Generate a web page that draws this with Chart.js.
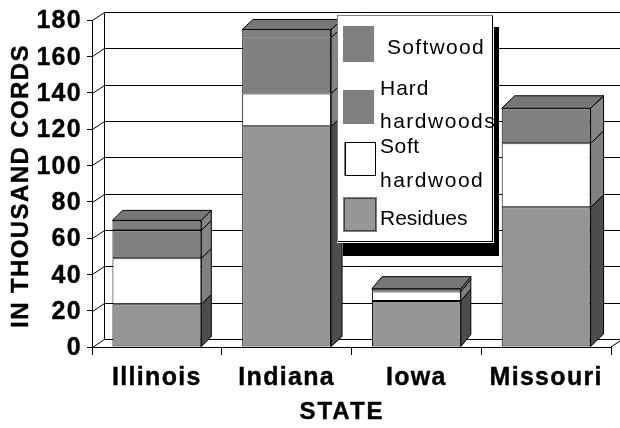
<!DOCTYPE html>
<html><head><meta charset="utf-8">
<script src="https://cdn.jsdelivr.net/npm/chart.js@4"></script>
<style>html,body{margin:0;padding:0;background:#fff}#w{width:620px;height:428px}</style>
</head><body><div id="w"><canvas id="c" width="620" height="428"></canvas></div>
<script>
const categories = ['Illinois', 'Indiana', 'Iowa', 'Missouri'];
const residues = [23.5, 121.5, 25.3, 76.9];
const softHardwood = [25.3, 18.1, 5.3, 35.2];
const hardHardwoods = [15.4, 30.8, 0, 19.3];
const softwood = [5.5, 4.4, 1.5, 0];
const yTicks = [0, 20, 40, 60, 80, 100, 120, 140, 160, 180];
const FONT = '"Liberation Sans", Arial, sans-serif';

const seriesStyle = [
  {label: 'Residues', data: residues, front: '#969696', side: '#4d4d4d'},
  {label: 'Soft hardwood', data: softHardwood, front: '#ffffff', side: '#808080'},
  {label: 'Hard hardwoods', data: hardHardwoods, front: '#808080', side: '#858585'},
  {label: 'Softwood', data: softwood, front: '#808080', side: '#858585'}
];
const TOP_FACE = '#777777';
const WALL_DX = 12, WALL_DY = 8;
const BAR_DX = [10, 11, 10, 13], BAR_DY = [10, 10, 12, 12.5];
const legendLines = [
  ['Softwood', 387, 54, 1.3],
  ['Hard', 380, 95, 1],
  ['hardwoods', 380, 128, 1.5],
  ['Soft', 380, 153, .6],
  ['hardwood', 380, 187, 1.5],
  ['Residues', 380, 225, 0]
];

function line(ctx, x1, y1, x2, y2) { ctx.beginPath(); ctx.moveTo(x1, y1); ctx.lineTo(x2, y2); ctx.stroke(); }
function poly(ctx, pts, fill) {
  ctx.beginPath(); pts.forEach((p, i) => i ? ctx.lineTo(p[0], p[1]) : ctx.moveTo(p[0], p[1])); ctx.closePath();
  ctx.fillStyle = fill; ctx.fill(); ctx.strokeStyle = '#000'; ctx.lineWidth = 1; ctx.stroke();
}
function heavyText(ctx, text, x, y) { ctx.fillText(text, x, y); ctx.lineWidth = .4; ctx.strokeStyle = '#000'; ctx.strokeText(text, x, y); }

const box3d = {
  id: 'box3d',
  beforeDraw(chart) { chart.ctx.letterSpacing = '1.3px'; },
  beforeDatasetsDraw(chart) {
    const ctx = chart.ctx, y = chart.scales.y, a = chart.chartArea;
    ctx.save(); ctx.strokeStyle = '#000'; ctx.lineWidth = 1;
    yTicks.forEach(v => {
      const py = Math.round(y.getPixelForValue(v)) + .5;
      line(ctx, a.left + .5, py, a.left + WALL_DX + .5, py - WALL_DY);
      line(ctx, a.left + WALL_DX + .5, py - WALL_DY, 620, py - WALL_DY);
    });
    line(ctx, a.left + WALL_DX + .5, Math.round(y.getPixelForValue(180)) - WALL_DY + .5, a.left + WALL_DX + .5, Math.round(y.getPixelForValue(0)) - WALL_DY + .5);
    line(ctx, a.right, a.bottom, 620, a.bottom - 6);
    categories.forEach((c, i) => {
      const dx = BAR_DX[i], dy = BAR_DY[i];
      let topEl = null;
      seriesStyle.forEach((s, d) => {
        const el = chart.getDatasetMeta(d).data[i];
        const r = el.x + el.width / 2;
        poly(ctx, [[r, el.base], [r + dx, el.base - dy], [r + dx, el.y - dy], [r, el.y]], s.side);
        topEl = el;
      });
      const l = topEl.x - topEl.width / 2, r = topEl.x + topEl.width / 2;
      poly(ctx, [[l, topEl.y], [l + dx, topEl.y - dy], [r + dx, topEl.y - dy], [r, topEl.y]], TOP_FACE);
    });
    ctx.restore();
  },
  afterDraw(chart) {
    const ctx = chart.ctx;
    ctx.save();
    // axis titles
    ctx.fillStyle = '#000'; ctx.textAlign = 'center'; ctx.textBaseline = 'middle';
    ctx.font = 'bold 24px ' + FONT; ctx.letterSpacing = '2px';
    heavyText(ctx, 'STATE', 342, 412);
    ctx.save(); ctx.translate(21, 186); ctx.rotate(-Math.PI / 2);
    ctx.letterSpacing = '1.4px';
    heavyText(ctx, 'IN THOUSAND CORDS', 0, 0); ctx.restore();
    // legend
    ctx.letterSpacing = '0px';
    ctx.fillStyle = '#000'; ctx.fillRect(343, 27, 156, 229);
    ctx.fillStyle = '#fff'; ctx.fillRect(337, 15, 157, 228);
    ctx.lineWidth = 1;
    ctx.strokeStyle = '#808080'; line(ctx, 337, 15.5, 493, 15.5); line(ctx, 337.5, 15, 337.5, 242);
    ctx.strokeStyle = '#000'; line(ctx, 338, 241.5, 493, 241.5); line(ctx, 492.5, 16, 492.5, 242);
    ctx.fillStyle = '#808080'; ctx.fillRect(343, 26, 31, 36); ctx.fillRect(343, 90, 31, 34);
    ctx.strokeStyle = '#000'; ctx.strokeRect(345.5, 142.5, 30, 33);
    ctx.strokeStyle = '#808080'; line(ctx, 344.5, 142, 344.5, 176);
    ctx.fillStyle = '#969696'; ctx.fillRect(344, 198, 32, 34);
    ctx.strokeStyle = '#808080'; ctx.strokeRect(343.5, 197.5, 33, 34);
    ctx.strokeStyle = '#444'; ctx.strokeRect(344.5, 198.5, 31, 32);
    ctx.fillStyle = '#000'; ctx.textAlign = 'left'; ctx.textBaseline = 'alphabetic';
    ctx.font = '21px ' + FONT;
    legendLines.forEach(([t, x, y, sp]) => { ctx.letterSpacing = sp + 'px'; ctx.fillText(t, x, y); });
    ctx.restore();
  }
};

const chart = new Chart(document.getElementById('c'), {
  type: 'bar',
  plugins: [box3d],
  data: {
    labels: categories,
    datasets: seriesStyle.map(s => ({label: s.label, data: s.data, backgroundColor: s.front, borderColor: '#000', borderWidth: 1, borderSkipped: false}))
  },
  options: {
    responsive: false, animation: false, events: [],
    layout: {padding: {top: 20, right: 9, left: 0, bottom: 0}},
    datasets: {bar: {categoryPercentage: 0.685, barPercentage: 1}},
    plugins: {legend: {display: false}, tooltip: {enabled: false}, title: {display: false}},
    scales: {
      x: {
        stacked: true,
        afterFit(s) { s.height = 81; },
        grid: {display: true, offset: true, drawOnChartArea: false, drawTicks: true, tickLength: 8, color: '#000'},
        border: {display: true, color: '#000'},
        ticks: {color: '#000', padding: 8, maxRotation: 0, textStrokeColor: '#000', textStrokeWidth: .4, font: {family: FONT, size: 25, weight: 'bold'}}
      },
      y: {
        stacked: true, min: 0, max: 180,
        afterFit(s) { s.width = 92; },
        afterBuildTicks(s) { s.ticks = yTicks.map(v => ({value: v})); },
        grid: {display: true, drawOnChartArea: false, drawTicks: true, tickLength: 5, color: '#000'},
        border: {display: true, color: '#000'},
        ticks: {color: '#000', padding: 5, labelOffset: 1.5, textStrokeColor: '#000', textStrokeWidth: .4, font: {family: FONT, size: 25, weight: 'bold'}}
      }
    }
  }
});
</script></body></html>
